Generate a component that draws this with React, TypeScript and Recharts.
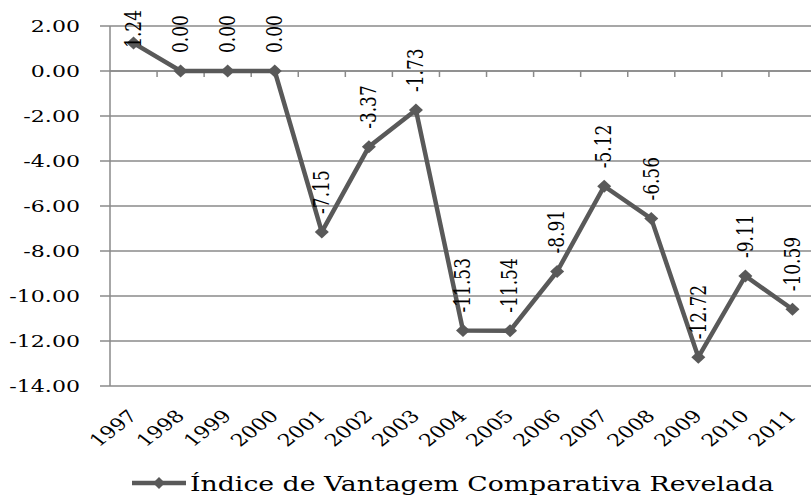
import { LineChart, Line, XAxis, YAxis, CartesianGrid, ReferenceLine, Legend, LabelList } from "recharts";

const years = ["1997", "1998", "1999", "2000", "2001", "2002", "2003", "2004", "2005", "2006", "2007", "2008", "2009", "2010", "2011"];
const ivcr = [1.24, 0.0, 0.0, 0.0, -7.15, -3.37, -1.73, -11.53, -11.54, -8.91, -5.12, -6.56, -12.72, -9.11, -10.59];
const yTicks = [2, 0, -2, -4, -6, -8, -10, -12, -14];
const seriesName = "Índice de Vantagem Comparativa Revelada";

const data = years.map((year, i) => ({ year, value: ivcr[i] }));

const FONT = "DejaVu Serif";
const LINE = "#595959";
const GRID = "#8a8a8a";
const STRETCH = 1.3; // the source image is widened horizontally

// rough DejaVu Serif glyph widths, used to keep labels inside the top edge
function textLen(s: string, size: number) {
  let w = 0;
  for (const c of s) w += c === "." ? 0.318 : c === "-" ? 0.338 : 0.636;
  return w * size;
}

function Diamond(props: any) {
  const { cx, cy } = props;
  if (cx == null || cy == null) return null;
  const w = props.w ?? 7, h = props.h ?? 6.5;
  return <polygon points={`${cx},${cy - h} ${cx + w},${cy} ${cx},${cy + h} ${cx - w},${cy}`} fill={LINE} />;
}

function YTick(props: any) {
  const { x, y, payload } = props;
  return (
    <text transform={`translate(${x - 18},${y}) scale(${STRETCH},1)`} textAnchor="end" dominantBaseline="central"
      fontFamily={FONT} fontSize={17} fill="#000">
      {Number(payload.value).toFixed(2)}
    </text>
  );
}

function XTick(props: any) {
  const { x, y, payload } = props;
  return (
    <text transform={`translate(${x + 5},${y + 31}) scale(${STRETCH},1) rotate(-45)`} textAnchor="end"
      fontFamily={FONT} fontSize={17} fill="#000">
      {payload.value}
    </text>
  );
}

function PointLabel(props: any) {
  const { x, y, value } = props;
  const txt = Number(value).toFixed(2);
  const start = Math.max(y - 18, 10 + textLen(txt, 17));
  return (
    <text transform={`translate(${x},${start}) scale(${STRETCH},1) rotate(-90)`} textAnchor="start"
      dominantBaseline="central" fontFamily={FONT} fontSize={17} fill="#000">
      {txt}
    </text>
  );
}

function ZeroAxis(props: any) {
  const { x1, x2, y1 } = props;
  if (x1 == null) return null;
  const step = (x2 - x1) / years.length;
  return (
    <g>
      <line x1={x1} x2={x2} y1={y1} y2={y1} stroke={GRID} strokeWidth={1.5} />
      {years.map((_, i) => (
        <line key={i} x1={x1 + step * (i + 1)} x2={x1 + step * (i + 1)} y1={y1} y2={y1 + 6} stroke={GRID} strokeWidth={1.5} />
      ))}
    </g>
  );
}

function LegendBox() {
  return (
    <svg width={811} height={30}>
      <line x1={132} x2={186} y1={17} y2={17} stroke={LINE} strokeWidth={4.5} />
      <Diamond cx={159} cy={17} w={6} h={6} />
      <text transform={`translate(190,25) scale(1.37,1)`} fontFamily={FONT} fontSize={19.5} fill="#000">
        {seriesName}
      </text>
    </svg>
  );
}

export default function App() {
  return (
    <div style={{ position: "absolute", left: 0, top: 0, width: 811, height: 496, overflow: "hidden", background: "#fff" }}>
      <LineChart width={826} height={496} data={data} margin={{ top: 26, right: 10, left: 0, bottom: 30 }}>
        <CartesianGrid vertical={false} stroke={GRID} strokeWidth={1.5} />
        <XAxis dataKey="year" scale="band" axisLine={false} tickLine={false} tickSize={0} tickMargin={0}
          interval={0} height={80} tick={<XTick />} />
        <YAxis domain={[-14, 2]} ticks={yTicks} width={110} interval={0} axisLine={{ stroke: GRID, strokeWidth: 1.5 }}
          tickLine={{ stroke: GRID, strokeWidth: 1.5 }} tickSize={10} tick={<YTick />} />
        <ReferenceLine y={0} shape={<ZeroAxis />} />
        <Legend verticalAlign="middle" layout="horizontal" content={<LegendBox />}
          wrapperStyle={{ position: "absolute", top: 466, left: 0, width: 811 }} />
        <Line type="linear" dataKey="value" name={seriesName} stroke={LINE} strokeWidth={4.5} dot={<Diamond />}
          activeDot={false} isAnimationActive={false}>
          <LabelList dataKey="value" content={<PointLabel />} />
        </Line>
      </LineChart>
    </div>
  );
}
